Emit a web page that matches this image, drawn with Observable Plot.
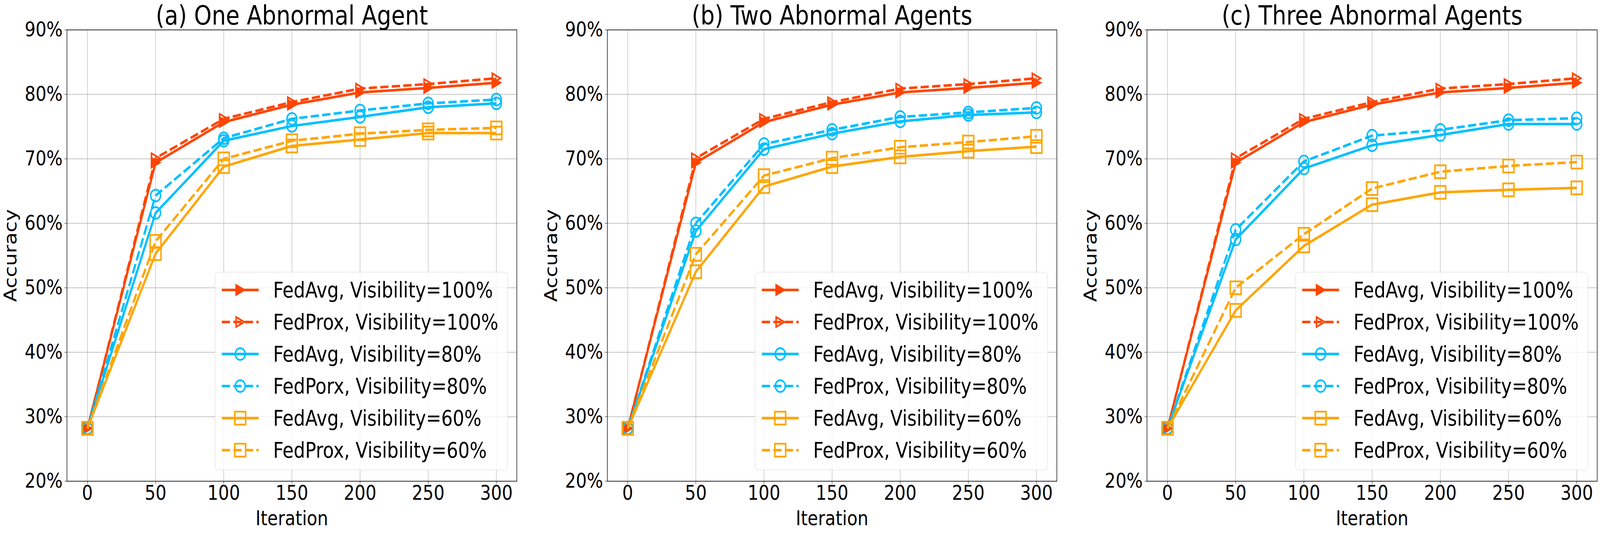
<!DOCTYPE html>
<html>
<head>
<meta charset="utf-8">
<script src="https://cdn.jsdelivr.net/npm/d3@7"></script>
<script src="https://cdn.jsdelivr.net/npm/@observablehq/plot@0.6"></script>
<style>
html, body { margin: 0; padding: 0; background: #fff; overflow: hidden; }
#fig { position: absolute; left: 0; top: 0; width: 4862px; height: 1364px; overflow: hidden; font-family: "DejaVu Sans", sans-serif; background: #fff; transform-origin: 0 0; }
.panel { position: absolute; top: 0; }
.legend { position: absolute; background: rgba(255,255,255,0.8); border: 1.5px solid #d4d4d4; border-radius: 11px; box-sizing: border-box; }
.legend .row { position: absolute; left: 0; height: 82px; width: 100%; }
.legend .row svg { position: absolute; left: 0; top: 0; }
.legend .row span { position: absolute; white-space: nowrap; font-size: 55px; line-height: 82px; color: #000; }
</style>
</head>
<body>
<div id="fig"></div>
<script>
// ---------------- data ----------------
const iterations = [0, 50, 100, 150, 200, 250, 300];
const xTicks = [0, 50, 100, 150, 200, 250, 300];
const yTicks = [20, 30, 40, 50, 60, 70, 80, 90];
const panelTitles = ["(a) One Abnormal Agent", "(b) Two Abnormal Agents", "(c) Three Abnormal Agents"];
const legendLabelsA = ["FedAvg, Visibility=100%", "FedProx, Visibility=100%", "FedAvg, Visibility=80%", "FedPorx, Visibility=80%", "FedAvg, Visibility=60%", "FedProx, Visibility=60%"];
const legendLabelsB = ["FedAvg, Visibility=100%", "FedProx, Visibility=100%", "FedAvg, Visibility=80%", "FedProx, Visibility=80%", "FedAvg, Visibility=60%", "FedProx, Visibility=60%"];
const legendLabelsC = ["FedAvg, Visibility=100%", "FedProx, Visibility=100%", "FedAvg, Visibility=80%", "FedProx, Visibility=80%", "FedAvg, Visibility=60%", "FedProx, Visibility=60%"];

// panel (a) One Abnormal Agent (accuracy, %)
const fedAvg100A  = [28.2, 69.4, 75.7, 78.4, 80.3, 81.0, 81.8];
const fedProx100A = [28.2, 70.1, 76.2, 78.8, 80.9, 81.6, 82.5];
const fedAvg80A   = [28.2, 61.6, 72.8, 75.1, 76.5, 78.0, 78.6];
const fedProx80A  = [28.2, 64.3, 73.2, 76.2, 77.5, 78.6, 79.2];
const fedAvg60A   = [28.2, 55.3, 68.8, 72.0, 73.0, 74.0, 74.0];
const fedProx60A  = [28.2, 57.2, 70.0, 72.8, 73.9, 74.5, 74.8];
// panel (b) Two Abnormal Agents
const fedAvg100B  = [28.2, 69.4, 75.7, 78.4, 80.3, 81.0, 81.8];
const fedProx100B = [28.2, 70.1, 76.2, 78.8, 80.9, 81.6, 82.5];
const fedAvg80B   = [28.2, 58.8, 71.5, 73.9, 75.8, 76.8, 77.2];
const fedProx80B  = [28.2, 60.0, 72.3, 74.5, 76.5, 77.2, 77.9];
const fedAvg60B   = [28.2, 52.5, 65.7, 68.8, 70.3, 71.2, 71.9];
const fedProx60B  = [28.2, 55.2, 67.4, 70.1, 71.8, 72.6, 73.5];
// panel (c) Three Abnormal Agents
const fedAvg100C  = [28.2, 69.4, 75.7, 78.4, 80.3, 81.0, 81.8];
const fedProx100C = [28.2, 70.1, 76.2, 78.8, 80.9, 81.6, 82.5];
const fedAvg80C   = [28.2, 57.5, 68.5, 72.1, 73.7, 75.4, 75.4];
const fedProx80C  = [28.2, 59.0, 69.6, 73.6, 74.5, 76.0, 76.3];
const fedAvg60C   = [28.2, 46.5, 56.5, 62.9, 64.8, 65.2, 65.5];
const fedProx60C  = [28.2, 50.0, 58.3, 65.4, 68.0, 68.9, 69.5];

// ---------------- styles ----------------
const seriesColors = ["#ff4500", "#ff4500", "#00bfff", "#00bfff", "#ffa500", "#ffa500"];
const seriesDashed = [false, true, false, true, false, true];
const seriesMarker = ["tri", "tri", "circle", "circle", "square", "square"];
const seriesFilled = [true, false, false, false, false, false];
const markerHalf = { tri: 12.5, circle: 15, square: 16.5 };

function makeSym(kind) {
  return { draw(ctx) {
    const r = markerHalf[kind];
    if (kind === "tri") { ctx.moveTo(r, 0); ctx.lineTo(-r, -r); ctx.lineTo(-r, r); ctx.closePath(); }
    else if (kind === "square") { ctx.rect(-r, -r, 2 * r, 2 * r); }
    else { ctx.moveTo(r, 0); ctx.arc(0, 0, r, 0, 2 * Math.PI); }
  } };
}
const symbolOf = { tri: makeSym("tri"), circle: makeSym("circle"), square: makeSym("square") };

const LW = 6.5, DASH = "25,10", MEW = 4.5;

const panels = [
  { title: panelTitles[0], labels: legendLabelsA, series: [fedAvg100A, fedProx100A, fedAvg80A, fedProx80A, fedAvg60A, fedProx60A], axesLeft: 203, axesWidth: 1367 },
  { title: panelTitles[1], labels: legendLabelsB, series: [fedAvg100B, fedProx100B, fedAvg80B, fedProx80B, fedAvg60B, fedProx60B], axesLeft: 1845, axesWidth: 1366 },
  { title: panelTitles[2], labels: legendLabelsC, series: [fedAvg100C, fedProx100C, fedAvg80C, fedProx80C, fedAvg60C, fedProx60C], axesLeft: 3485, axesWidth: 1368 }
];

const fig = document.getElementById("fig");
const ML = 203, MRIGHT = 9, MT = 76, MB = 133, H = 1364;

function fitFigure() {
  const vw = document.documentElement.clientWidth || window.innerWidth;
  const vh = document.documentElement.clientHeight || window.innerHeight;
  const sx = vw / 4862, sy = vh / 1364;
  fig.style.transform = (Math.abs(sx - 1) < 1e-3 && Math.abs(sy - 1) < 1e-3) ? "none" : `scale(${sx}, ${sy})`;
}
fitFigure();
window.addEventListener("resize", fitFigure);

panels.forEach((p) => {
  const marks = [
    Plot.gridX(xTicks, { stroke: "#b0b0b0", strokeOpacity: 1, strokeWidth: 1.3 }),
    Plot.gridY(yTicks, { stroke: "#b0b0b0", strokeOpacity: 1, strokeWidth: 1.6 }),
    Plot.axisX(xTicks, { tickSize: 7, tickPadding: 4, fontSize: 52, tickFormat: d => String(d), label: "Iteration", labelAnchor: "center", labelArrow: "none", labelOffset: 112 }),
    Plot.axisY(yTicks, { tickSize: 7, tickPadding: 6, fontSize: 52, tickFormat: d => d + "%", label: "Accuracy", labelAnchor: "center", labelArrow: "none", labelOffset: 190 })
  ];
  p.series.forEach((vals, k) => {
    const rows = iterations.map((it, j) => ({ it, acc: vals[j] }));
    marks.push(Plot.line(rows, { x: "it", y: "acc", stroke: seriesColors[k], strokeWidth: LW, strokeDasharray: seriesDashed[k] ? DASH : null, strokeLinejoin: "round", strokeLinecap: "butt" }));
    marks.push(Plot.dot(rows, { x: "it", y: "acc", r: 10, symbol: symbolOf[seriesMarker[k]], stroke: seriesColors[k], strokeWidth: MEW, fill: seriesFilled[k] ? seriesColors[k] : "none" }));
  });
  marks.push(Plot.frame({ stroke: "#000", strokeWidth: 1.6 }));
  marks.push(Plot.text([p.title], { text: d => d, frameAnchor: "top", lineAnchor: "bottom", dy: -14, fontSize: 68 }));

  const svg = Plot.plot({
    width: ML + p.axesWidth + MRIGHT,
    height: H,
    marginLeft: ML, marginRight: MRIGHT, marginTop: MT, marginBottom: MB,
    style: { fontFamily: "DejaVu Sans, sans-serif", fontSize: "54px", color: "#000", background: "transparent", overflow: "visible", maxWidth: "none" },
    x: { domain: [-15, 315] },
    y: { domain: [20, 90] },
    marks
  });
  const wrap = document.createElement("div");
  wrap.className = "panel";
  wrap.style.left = (p.axesLeft - ML) + "px";
  wrap.appendChild(svg);
  fig.appendChild(wrap);

  // legend
  const LEGW = 890, LEGH = 507;
  const leg = document.createElement("div");
  leg.className = "legend";
  leg.style.width = LEGW + "px";
  leg.style.height = LEGH + "px";
  leg.style.left = (p.axesLeft + p.axesWidth - 27 - LEGW) + "px";
  leg.style.top = (1231 - 28 - LEGH) + "px";
  p.labels.forEach((lab, k) => {
    const row = document.createElement("div");
    row.className = "row";
    row.style.top = (45 - 41 + 82 * k) + "px";
    const s = d3.create("svg").attr("width", 170).attr("height", 82);
    s.append("line").attr("x1", 20).attr("x2", 132).attr("y1", 41).attr("y2", 41)
      .attr("stroke", seriesColors[k]).attr("stroke-width", LW)
      .attr("stroke-dasharray", seriesDashed[k] ? DASH : null);
    s.append("path").attr("transform", "translate(76,41)")
      .attr("d", (() => { const pth = d3.path(); symbolOf[seriesMarker[k]].draw(pth); return pth.toString(); })())
      .attr("stroke", seriesColors[k]).attr("stroke-width", MEW)
      .attr("fill", seriesFilled[k] ? seriesColors[k] : "none");
    row.appendChild(s.node());
    const sp = document.createElement("span");
    sp.style.left = "176px";
    sp.style.top = "0px";
    sp.textContent = lab;
    row.appendChild(sp);
    leg.appendChild(row);
  });
  fig.appendChild(leg);
});
</script>
</body>
</html>
